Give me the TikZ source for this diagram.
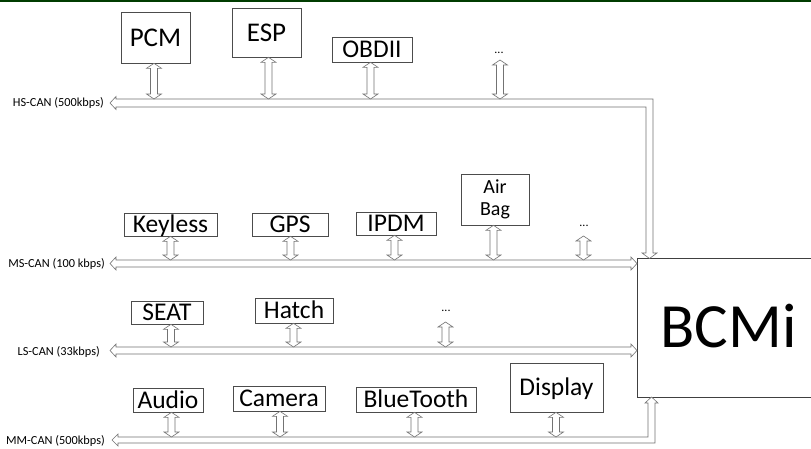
\documentclass[tikz,border=0pt]{standalone}
\usepackage{fontspec}
\setmainfont{Carlito}
\usetikzlibrary{calc}
\definecolor{topgreen}{RGB}{0,60,0}
\begin{document}
\begin{tikzpicture}[x=1pt,y=-1pt,
  modbox/.style={draw=black!70, line width=0.7pt, inner sep=0pt, font=\fontsize{25.5}{29}\selectfont, text height=16.3pt, text depth=0pt},
  buslabel/.style={font=\fontsize{12.3}{14}\selectfont, inner sep=0pt, anchor=east},
  dots/.style={font=\fontsize{12}{14}\selectfont, inner sep=0pt},
  busline/.style={draw=black!55, line width=0.6pt, fill=white, line join=miter},
  modarrow/.style={draw=black!55, line width=0.6pt, fill=white,
    to path={let \p1=(\tikztostart), \p2=(\tikztotarget) in
      (\x2,\y1) -- (\x2+7.5pt,\y1-5pt) -- (\x2+3.5pt,\y1-5pt) -- (\x2+3.5pt,\y2+5pt)
      -- (\x2+7.5pt,\y2+5pt) -- (\x2,\y2) -- (\x2-7.5pt,\y2+5pt) -- (\x2-3.5pt,\y2+5pt)
      -- (\x2-3.5pt,\y1-5pt) -- (\x2-7.5pt,\y1-5pt) -- cycle}}
]
\useasboundingbox (0,0) rectangle (811,449);
\clip (0,0) rectangle (811,449);
\fill[white] (0,0) rectangle (811,449);
\fill[topgreen] (0,0) rectangle (811,2);

% BCMi
\node[draw=black!75, line width=0.7pt, anchor=north west, minimum width=200pt, minimum height=139pt, inner sep=0pt] (bcm) at (637,258) {};
\node[font=\fontsize{63}{70}\selectfont, inner sep=0pt] (bcmtext) at (728.5,326.5) {BCMi};

% buses
\draw[busline] (110,103) -- (116,96.5) -- (116,99) -- (653,99) -- (653,253) -- (657,253) -- (649.5,258.5) -- (642,253) -- (646,253) -- (646,107) -- (116,107) -- (116,109.5) -- cycle;
\draw[busline] (110,263.5) -- (116,257) -- (116,260) -- (631,260) -- (631,257) -- (637,263.5) -- (631,270) -- (631,267) -- (116,267) -- (116,270) -- cycle;
\draw[busline] (110,350.5) -- (116,344) -- (116,347) -- (631,347) -- (631,344) -- (637,350.5) -- (631,357) -- (631,354) -- (116,354) -- (116,357) -- cycle;
\draw[busline] (112,440) -- (118,434) -- (118,437) -- (648,437) -- (648,403) -- (645,403) -- (651.5,397) -- (658,403) -- (655,403) -- (655,443) -- (118,443) -- (118,446) -- cycle;

% labels
\node[buslabel] (hslab) at (104,103) {HS-CAN (500kbps)};
\node[buslabel] (mslab) at (105,264) {MS-CAN (100 kbps)};
\node[buslabel] (lslab) at (100,351.5) {LS-CAN (33kbps)};
\node[buslabel] (mmlab) at (105,440.5) {MM-CAN (500kbps)};

% HS modules
\node[modbox, minimum width=69pt, minimum height=51pt, font=\fontsize{27}{30}\selectfont, text height=17.3pt] (pcm) at (155.5,37.5) {PCM};
\node[modbox, minimum width=69pt, minimum height=49pt, font=\fontsize{27}{30}\selectfont, text height=17.3pt] (esp) at (266.5,32.5) {ESP};
\node[modbox, minimum width=80pt, minimum height=25pt] (obd) at (372,49.5) {OBDII};
\node[dots] (hsdots) at (499,53) {...};
\coordinate (hs1) at (154,99);
\coordinate (hs2) at (268.5,99);
\coordinate (hs3) at (370.5,99);
\coordinate (hs4) at (500,99);
\coordinate (hsd) at (500,60);
\draw[modarrow] (pcm.south) to (hs1);
\draw[modarrow] (esp.south) to (hs2);
\draw[modarrow] (obd.south) to (hs3);
\draw[modarrow] (hsd) to (hs4);

% MS modules
\node[modbox, minimum width=93pt, minimum height=23pt] (key) at (170.5,224.5) {Keyless};
\node[modbox, minimum width=76pt, minimum height=23pt] (gps) at (290,224.5) {GPS};
\node[modbox, minimum width=80pt, minimum height=23pt] (ipdm) at (396,223.5) {IPDM};
\node[modbox, minimum width=68pt, minimum height=51pt, font=\fontsize{20}{22}\selectfont, text height=, text depth=, align=center] (air) at (495,199.5) {Air\\Bag};
\node[dots] (msdots) at (584,226) {...};
\coordinate (ms1) at (170.5,260);
\coordinate (ms2) at (290.5,260);
\coordinate (ms3) at (394.5,260);
\coordinate (ms4) at (493.5,260);
\coordinate (ms5) at (583.5,260);
\coordinate (msd) at (583.5,236);
\draw[modarrow] (key.south) to (ms1);
\draw[modarrow] (gps.south) to (ms2);
\draw[modarrow] (ipdm.south) to (ms3);
\draw[modarrow] (air.south) to (ms4);
\draw[modarrow] (msd) to (ms5);

% LS modules
\node[modbox, minimum width=72pt, minimum height=23pt] (seat) at (167,312.5) {SEAT};
\node[modbox, minimum width=78pt, minimum height=25pt] (hatch) at (294,310.5) {Hatch};
\node[dots] (lsdots) at (446,311) {...};
\coordinate (ls1) at (171,347);
\coordinate (ls2) at (293.5,347);
\coordinate (ls3) at (445.5,347);
\coordinate (lsd) at (445.5,322);
\draw[modarrow] (seat.south) to (ls1);
\draw[modarrow] (hatch.south) to (ls2);
\draw[modarrow] (lsd) to (ls3);

% MM modules
\node[modbox, minimum width=70pt, minimum height=24pt] (audio) at (168,400) {Audio};
\node[modbox, minimum width=92pt, minimum height=25pt] (cam) at (279,398.5) {Camera};
\node[modbox, minimum width=120pt, minimum height=25pt] (bt) at (416,399.5) {BlueTooth};
\node[modbox, minimum width=93pt, minimum height=49pt] (disp) at (556.5,387.5) {Display};
\coordinate (mm1) at (171.5,437);
\coordinate (mm2) at (280,437);
\coordinate (mm3) at (414.5,437);
\coordinate (mm4) at (556,437);
\draw[modarrow] (audio.south) to (mm1);
\draw[modarrow] (cam.south) to (mm2);
\draw[modarrow] (bt.south) to (mm3);
\draw[modarrow] (disp.south) to (mm4);
\end{tikzpicture}
\end{document}
